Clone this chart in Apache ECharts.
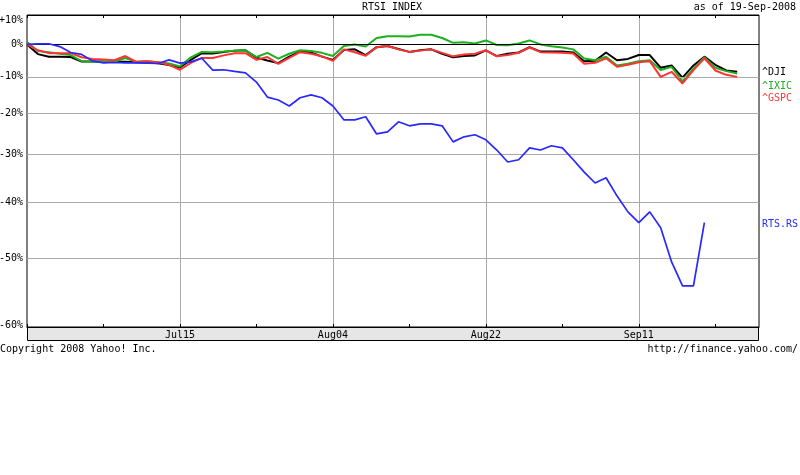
<!DOCTYPE html>
<html><head><meta charset="utf-8">
<script src="https://cdn.jsdelivr.net/npm/echarts@6/dist/echarts.min.js"></script>
<style>html,body{margin:0;padding:0;background:#fff}#c{width:800px;height:475px}</style>
</head><body><div id="c"></div>
<script>
// x categories: weekdays
const categories = ['Jun25','Jun26','Jun27','Jun30','Jul01','Jul02','Jul03','Jul04','Jul07','Jul08',
'Jul09','Jul10','Jul11','Jul14','Jul15','Jul16','Jul17','Jul18','Jul21','Jul22',
'Jul23','Jul24','Jul25','Jul28','Jul29','Jul30','Jul31','Aug01','Aug04','Aug05',
'Aug06','Aug07','Aug08','Aug11','Aug12','Aug13','Aug14','Aug15','Aug18','Aug19',
'Aug20','Aug21','Aug22','Aug25','Aug26','Aug27','Aug28','Aug29','Sep01','Sep02',
'Sep03','Sep04','Sep05','Sep08','Sep09','Sep10','Sep11','Sep12','Sep15','Sep16',
'Sep17','Sep18','Sep19','Sep22','Sep23','Sep24','Sep25','Sep26'];
const xTickLabels = ['Jul15','Aug04','Aug22','Sep11'];
const yTickLabels = [10, 0, -10, -20, -30, -40, -50, -60];

// percent change series
const dji = [0,-3.1,-3.9,-3.9,-4.0,-5.4,-5.4,-5.4,-5.5,-5.5,
-5.6,-5.7,-5.9,-6.5,-7.2,-4.9,-2.8,-2.9,-2.4,-2.0,
-1.9,-4.2,-5.1,-5.9,-3.9,-2.3,-2.6,-3.9,-4.9,-1.8,
-1.6,-3.4,-0.9,-0.5,-1.5,-2.4,-1.9,-1.6,-3.0,-4.1,
-3.7,-3.5,-1.9,-3.7,-3.0,-2.6,-0.9,-2.3,-2.3,-2.3,
-2.6,-5.3,-5.2,-2.6,-5.0,-4.6,-3.4,-3.4,-7.3,-6.6,
-10.2,-6.6,-3.9,-6.4,-8.1,-8.5];
const ixic = [0.8,-2.1,-2.5,-3.0,-3.4,-5.3,-5.5,-5.5,-5.5,-4.3,
-5.5,-5.3,-5.6,-6.0,-6.9,-4.1,-2.4,-2.5,-2.3,-2.0,
-1.9,-4.0,-2.7,-4.5,-3.0,-1.9,-2.1,-2.7,-3.7,-0.5,
0.0,-0.7,2.1,2.7,2.7,2.6,3.2,3.2,2.1,0.5,
0.7,0.3,1.3,-0.2,-0.3,0.3,1.3,0.0,-0.6,-1.0,
-1.6,-4.5,-5.0,-3.9,-6.6,-6.1,-5.3,-5.0,-8.0,-7.0,
-11.3,-7.6,-4.1,-7.3,-8.3,-9.0];
const gspc = [0,-1.9,-2.8,-2.8,-2.8,-4.1,-4.6,-4.8,-5.0,-3.7,
-5.5,-5.3,-5.6,-6.4,-7.9,-5.8,-4.3,-4.3,-3.5,-2.8,
-2.8,-4.9,-4.0,-6.1,-4.3,-2.5,-3.0,-3.8,-5.2,-1.6,
-2.5,-3.6,-0.9,-0.5,-1.6,-2.4,-2.0,-1.6,-2.7,-3.8,
-3.2,-3.0,-1.9,-3.8,-3.4,-2.7,-1.0,-2.5,-2.6,-2.7,
-2.9,-6.1,-5.8,-4.4,-7.0,-6.4,-5.6,-5.3,-10.0,-8.5,
-11.9,-8.0,-4.4,-8.1,-9.4,-10.0];
const rts = [0,0.2,0.2,-0.7,-2.6,-3.2,-5.2,-5.8,-5.7,-5.8,
-5.8,-5.9,-6.0,-4.9,-5.9,-5.5,-4.4,-8.0,-7.9,-8.4,
-8.8,-11.5,-15.7,-16.5,-18.1,-15.9,-15.1,-15.9,-18.1,-21.7,
-21.7,-20.9,-25.2,-24.7,-22.2,-23.2,-22.7,-22.7,-23.2,-27.1,
-25.9,-25.4,-26.6,-29.0,-31.7,-31.2,-28.5,-29.0,-28.0,-28.5,
-31.2,-33.9,-36.2,-35.1,-38.8,-41.9,-43.9,-41.9,-44.8,-50.6,
-54.3,-54.3,-43.9];
const seriesNames = ['^DJI','^IXIC','^GSPC','RTS.RS'];
const seriesColors = ['#000000','#1cb01c','#ff3333','#2828ff'];

const FONT = '"DejaVu Sans Mono", monospace';
const toRatio = a => a.map(p => 1 + p / 100);
const isMajor = i => xTickLabels.indexOf(categories[i]) >= 0;
const isMinor = i => i % 7 === 0;

const chart = echarts.init(document.getElementById('c'));
const gridMarks = yTickLabels.map(t => ({
  yAxis: 1 + t / 100,
  lineStyle: { color: (t === 0 || t === 10 || t === -60) ? '#000' : '#aaaaaa', width: 1, type: 'solid' },
  label: { formatter: (t > 0 ? '+' : '') + t + '%', offset: [0, t === 10 ? 5 : (t === -60 ? -2 : 0)] }
}));

const lineSeries = [dji, ixic, gspc, rts].map((d, k) => ({
  name: seriesNames[k], type: 'line', data: toRatio(d), showSymbol: false, symbol: 'none',
  lineStyle: { color: seriesColors[k], width: k === 3 ? 1.7 : 2 }, itemStyle: { color: seriesColors[k] },
  z: 3 + k, animation: false, silent: true
}));

chart.setOption({
  animation: false,
  grid: { left: 27, top: 15, width: 732, height: 312, show: true, borderColor: '#000', borderWidth: 1 },
  xAxis: [{
    type: 'category', data: categories, boundaryGap: false, position: 'bottom',
    axisLine: { show: true, lineStyle: { color: '#000' } },
    axisTick: { show: true, inside: true, length: 3, interval: isMinor, lineStyle: { color: '#000' } },
    splitLine: { show: true, interval: isMajor, lineStyle: { color: '#aaaaaa', width: 1 } },
    axisLabel: { show: true, interval: isMajor, margin: 3, color: '#000', fontFamily: FONT, fontSize: 10 }
  }, {
    type: 'category', data: categories, boundaryGap: false, position: 'top',
    axisLine: { show: false },
    axisTick: { show: true, inside: true, length: 3, interval: isMinor, lineStyle: { color: '#000' } },
    axisLabel: { show: false }, splitLine: { show: false }
  }],
  yAxis: { type: 'log', logBase: 10, min: 0.4, max: 1.1,
    axisLine: { show: false }, axisTick: { show: false }, axisLabel: { show: false }, splitLine: { show: false } },
  series: [{
    type: 'line', data: [], z: 1, silent: true,
    markLine: { symbol: 'none', silent: true, animation: false, data: gridMarks,
      label: { show: true, position: 'start', distance: 4, color: '#000', fontFamily: FONT, fontSize: 10 } }
  }].concat(lineSeries),
  graphic: { elements: [
    { type: 'rect', z: -10, silent: true, shape: { x: 27.5, y: 327.5, width: 731, height: 13 },
      style: { fill: '#e6e6e6', stroke: '#000', lineWidth: 1 } },
    { type: 'text', x: 392, y: 7, style: { text: 'RTSI INDEX', font: '10px ' + FONT, fill: '#000', align: 'center', verticalAlign: 'middle' } },
    { type: 'text', x: 796, y: 7, style: { text: 'as of 19-Sep-2008', font: '10px ' + FONT, fill: '#000', align: 'right', verticalAlign: 'middle' } },
    { type: 'text', x: 0, y: 349, style: { text: 'Copyright 2008 Yahoo! Inc.', font: '10px ' + FONT, fill: '#000', align: 'left', verticalAlign: 'middle' } },
    { type: 'text', x: 798, y: 349, style: { text: 'http://finance.yahoo.com/', font: '10px ' + FONT, fill: '#000', align: 'right', verticalAlign: 'middle' } },
    { type: 'text', x: 762, y: 72, style: { text: seriesNames[0], font: '10px ' + FONT, fill: seriesColors[0], verticalAlign: 'middle' } },
    { type: 'text', x: 762, y: 86, style: { text: seriesNames[1], font: '10px ' + FONT, fill: seriesColors[1], verticalAlign: 'middle' } },
    { type: 'text', x: 762, y: 98, style: { text: seriesNames[2], font: '10px ' + FONT, fill: seriesColors[2], verticalAlign: 'middle' } },
    { type: 'text', x: 762, y: 224, style: { text: seriesNames[3], font: '10px ' + FONT, fill: seriesColors[3], verticalAlign: 'middle' } }
  ] }
});
</script></body></html>
